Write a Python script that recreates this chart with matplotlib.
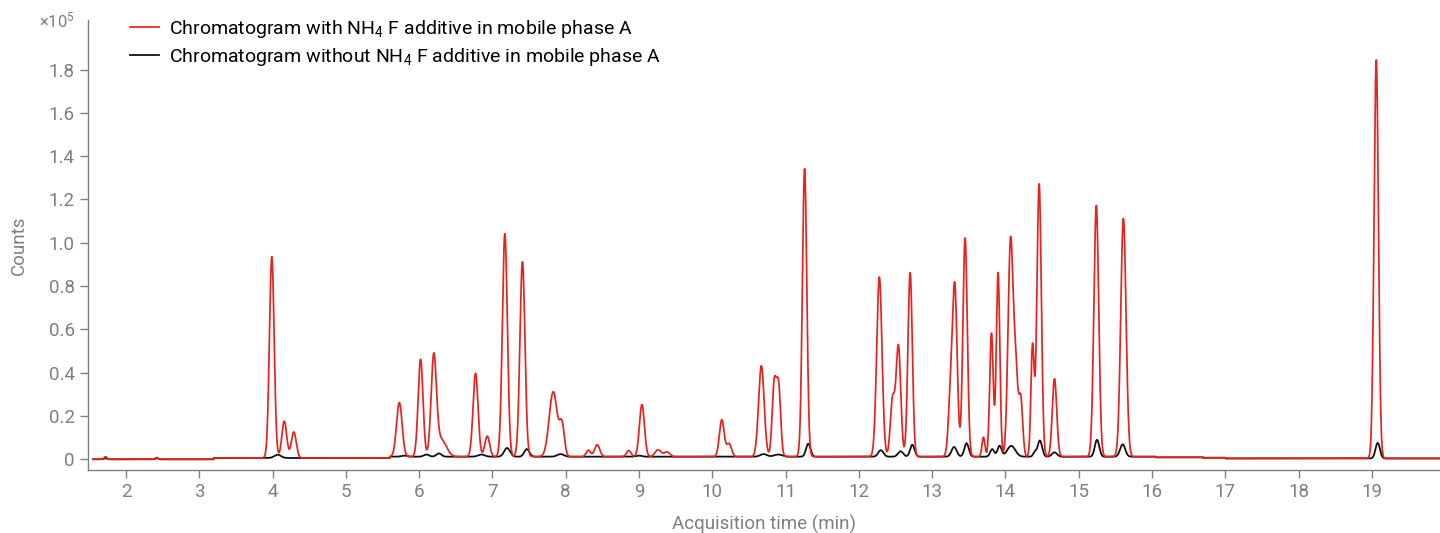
import numpy as np
import matplotlib
matplotlib.use("Agg")
import matplotlib.pyplot as plt

plt.rcParams['font.family'] = ['Roboto', 'DejaVu Sans']
plt.rcParams['mathtext.fontset'] = 'custom'
plt.rcParams['mathtext.rm'] = 'Roboto'
plt.rcParams['mathtext.it'] = 'Roboto'

# peak table (time in min, height in 1e5 counts, width sigma in min)
red_rt = [1.72, 2.42, 3.99, 4.16, 4.29, 5.73, 6.02, 6.20, 6.30, 6.77, 6.93, 7.17, 7.41,
          7.83, 7.95, 8.31, 8.43, 8.86, 9.04, 9.26, 9.38, 10.13, 10.23, 10.67, 10.845,
          10.905, 11.26, 12.28, 12.46, 12.54, 12.70, 13.25, 13.31, 13.45, 13.70, 13.81, 13.90,
          14.07, 14.14, 14.21, 14.37, 14.46, 14.67, 15.24, 15.61, 19.06]
red_h = [0.012, 0.008, 0.93, 0.17, 0.12, 0.25, 0.45, 0.45, 0.08, 0.385, 0.095, 1.03, 0.90,
         0.30, 0.14, 0.03, 0.055, 0.028, 0.24, 0.032, 0.022, 0.17, 0.06, 0.42, 0.33,
         0.32, 1.33, 0.83, 0.26, 0.51, 0.85, 0.25, 0.77, 1.01, 0.09, 0.57, 0.85,
         0.99, 0.38, 0.26, 0.51, 1.26, 0.36, 1.16, 1.10, 1.84]
red_w = [0.02, 0.02, 0.032, 0.033, 0.033, 0.038, 0.033, 0.036, 0.07, 0.034, 0.033, 0.034, 0.034,
         0.055, 0.033, 0.03, 0.035, 0.03, 0.034, 0.04, 0.04, 0.033, 0.033, 0.038, 0.028,
         0.028, 0.03, 0.036, 0.03, 0.032, 0.03, 0.03, 0.032, 0.03, 0.02, 0.024, 0.024,
         0.034, 0.03, 0.026, 0.022, 0.03, 0.03, 0.033, 0.036, 0.03]

black_rt = [1.72, 2.42, 4.07, 5.80, 6.10, 6.27, 6.85, 7.20, 7.47, 7.93, 9.00, 10.70, 10.90,
            11.31, 12.30, 12.57, 12.73, 13.30, 13.47, 13.82, 13.92, 14.08, 14.40, 14.47,
            14.67, 15.25, 15.60, 19.08]
black_h = [0.005, 0.005, 0.015, 0.005, 0.01, 0.015, 0.01, 0.04, 0.035, 0.012, 0.005, 0.012, 0.01,
           0.06, 0.03, 0.025, 0.055, 0.045, 0.062, 0.035, 0.05, 0.05, 0.02, 0.075,
           0.02, 0.078, 0.057, 0.072]
black_w = [0.02, 0.02, 0.045, 0.04, 0.035, 0.035, 0.045, 0.04, 0.035, 0.045, 0.04, 0.045, 0.055,
           0.03, 0.035, 0.035, 0.03, 0.035, 0.03, 0.028, 0.028, 0.055, 0.022, 0.03,
           0.035, 0.03, 0.035, 0.03]

# stepped baseline levels (start time, level)
base_start = [1.55, 3.20, 5.60, 16.05, 16.70, 17.00]
base_level = [0.0, 0.006, 0.012, 0.009, 0.007, 0.004]

t = np.arange(1.55, 19.93, 0.002)


def trace(rt, h, w):
    y = np.zeros_like(t)
    idx = np.searchsorted(base_start, t, side='right') - 1
    y += np.array(base_level)[idx]
    for c, a, s in zip(rt, h, w):
        y += a * np.exp(-0.5 * ((t - c) / s) ** 2)
    return y


y_red = trace(red_rt, red_h, red_w)
y_black = trace(black_rt, black_h, black_w)

gray = '#7f7f7f'
fig = plt.figure(figsize=(14.4, 5.33), dpi=100)
ax = fig.add_axes([0.061, 0.118, 0.939, 0.845])
ax.plot(t, y_black, color='#111111', lw=1.3, label='Chromatogram without NH$_4$ F additive in mobile phase A')
ax.plot(t, y_red, color='#e8221c', lw=1.25, label='Chromatogram with NH$_4$ F additive in mobile phase A')

ax.set_xlim(1.48, 19.93)
ax.set_ylim(-0.05, 2.03)
ax.set_xticks(range(2, 20))
ax.set_yticks([0, 0.2, 0.4, 0.6, 0.8, 1.0, 1.2, 1.4, 1.6, 1.8])
ax.set_yticklabels(['0', '0.2', '0.4', '0.6', '0.8', '1.0', '1.2', '1.4', '1.6', '1.8'])
for s in ['top', 'right']:
    ax.spines[s].set_visible(False)
for s in ['left', 'bottom']:
    ax.spines[s].set_color(gray)
    ax.spines[s].set_linewidth(1.0)
ax.tick_params(colors=gray, labelsize=13.5, length=6, width=1.0, labelcolor=gray)
ax.set_xlabel('Acquisition time (min)', color=gray, fontsize=13.5, labelpad=10)
ax.set_ylabel('Counts', color=gray, fontsize=13.5, labelpad=15)
fig.text(0.027, 0.962, '×10$^5$', color=gray, fontsize=12, va='center')

h, l = ax.get_legend_handles_labels()
ax.legend(h[::-1], l[::-1], loc='upper left', bbox_to_anchor=(0.018, 1.043), frameon=False,
          fontsize=14, handlelength=1.5, handletextpad=0.5, labelspacing=0.3)

fig.savefig('out.png', dpi=100)
